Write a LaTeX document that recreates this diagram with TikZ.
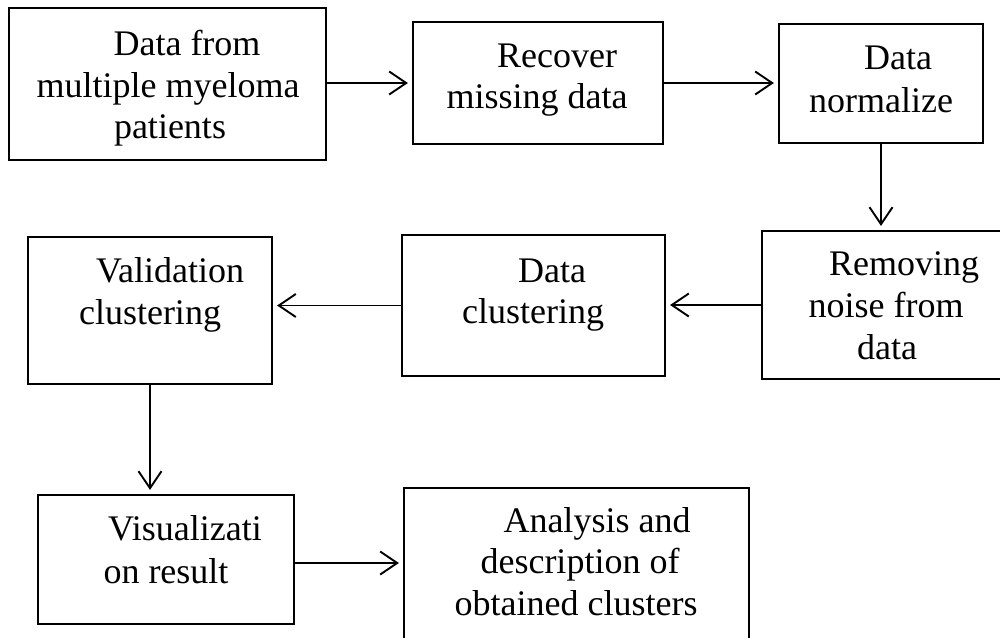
\documentclass[tikz,border=0pt]{standalone}
\usepackage{fontspec}
\setmainfont{Liberation Serif}
\usetikzlibrary{arrows.meta}
\tikzset{
  box/.style={draw=black, line width=2.2pt, rectangle, inner sep=0pt},
  txt/.style={anchor=base, inner sep=0pt, font=\fontsize{36}{41.5}\selectfont},
  flow/.style={draw=black, line width=1.9pt, -{Straight Barb[length=17pt,width=23pt,line width=1.9pt]}, shorten >=4pt}
}
\begin{document}
\begin{tikzpicture}[x=1pt,y=-1pt]
\useasboundingbox (0,0) rectangle (1000,637);
\clip (0,0) rectangle (1000,637);
% boxes
\node[box, minimum width=317, minimum height=152] (b1) at (167.5,84) {};
\node[box, minimum width=250, minimum height=122] (b2) at (538,83) {};
\node[box, minimum width=204, minimum height=119] (b3) at (881,83.5) {};
\node[box, minimum width=249, minimum height=148] (b4) at (886.5,305) {};
\node[box, minimum width=263, minimum height=141] (b5) at (533.5,305.5) {};
\node[box, minimum width=244, minimum height=147] (b6) at (150,310.5) {};
\node[box, minimum width=256, minimum height=129] (b7) at (166,559.5) {};
\node[box, minimum width=345, minimum height=172] (b8) at (576.5,574) {};
% texts
\node[txt] (t1a) at (187,55) {Data from};
\node[txt] (t1b) at (168,97) {multiple myeloma};
\node[txt] (t1c) at (170,138) {patients};
\node[txt] (t2a) at (557,67) {Recover};
\node[txt] (t2b) at (537,108) {missing data};
\node[txt] (t3a) at (898,69) {Data};
\node[txt] (t3b) at (881,112) {normalize};
\node[txt] (t4a) at (904,275) {Removing};
\node[txt] (t4b) at (886,317) {noise from};
\node[txt] (t4c) at (887,359) {data};
\node[txt] (t5a) at (552,282) {Data};
\node[txt] (t5b) at (533,323) {clustering};
\node[txt] (t6a) at (170,282) {Validation};
\node[txt] (t6b) at (150,324) {clustering};
\node[txt] (t7a) at (185,540) {Visualizati};
\node[txt] (t7b) at (166,583) {on result};
\node[txt] (t8a) at (597,532) {Analysis and};
\node[txt] (t8b) at (580,573) {description of};
\node[txt] (t8c) at (576,615) {obtained clusters};
% connectors
\draw[flow] (b2.west -| b1.east) -- (b2.west);
\draw[flow] (b2.east) -- (b3.west |- b2.east);
\draw[flow] (b3.south) -- (b3.south |- b4.north);
\draw[flow] (b4.west) -- (b5.east |- b4.west);
\draw[flow] (b5.west) -- (b6.east |- b5.west);
\draw[flow] (b6.south) -- (b6.south |- b7.north);
\draw[flow] (b7.east |- t7b.base) ++(0,-20) coordinate (c7) (c7) -- (b8.west |- c7);
\end{tikzpicture}
\end{document}
